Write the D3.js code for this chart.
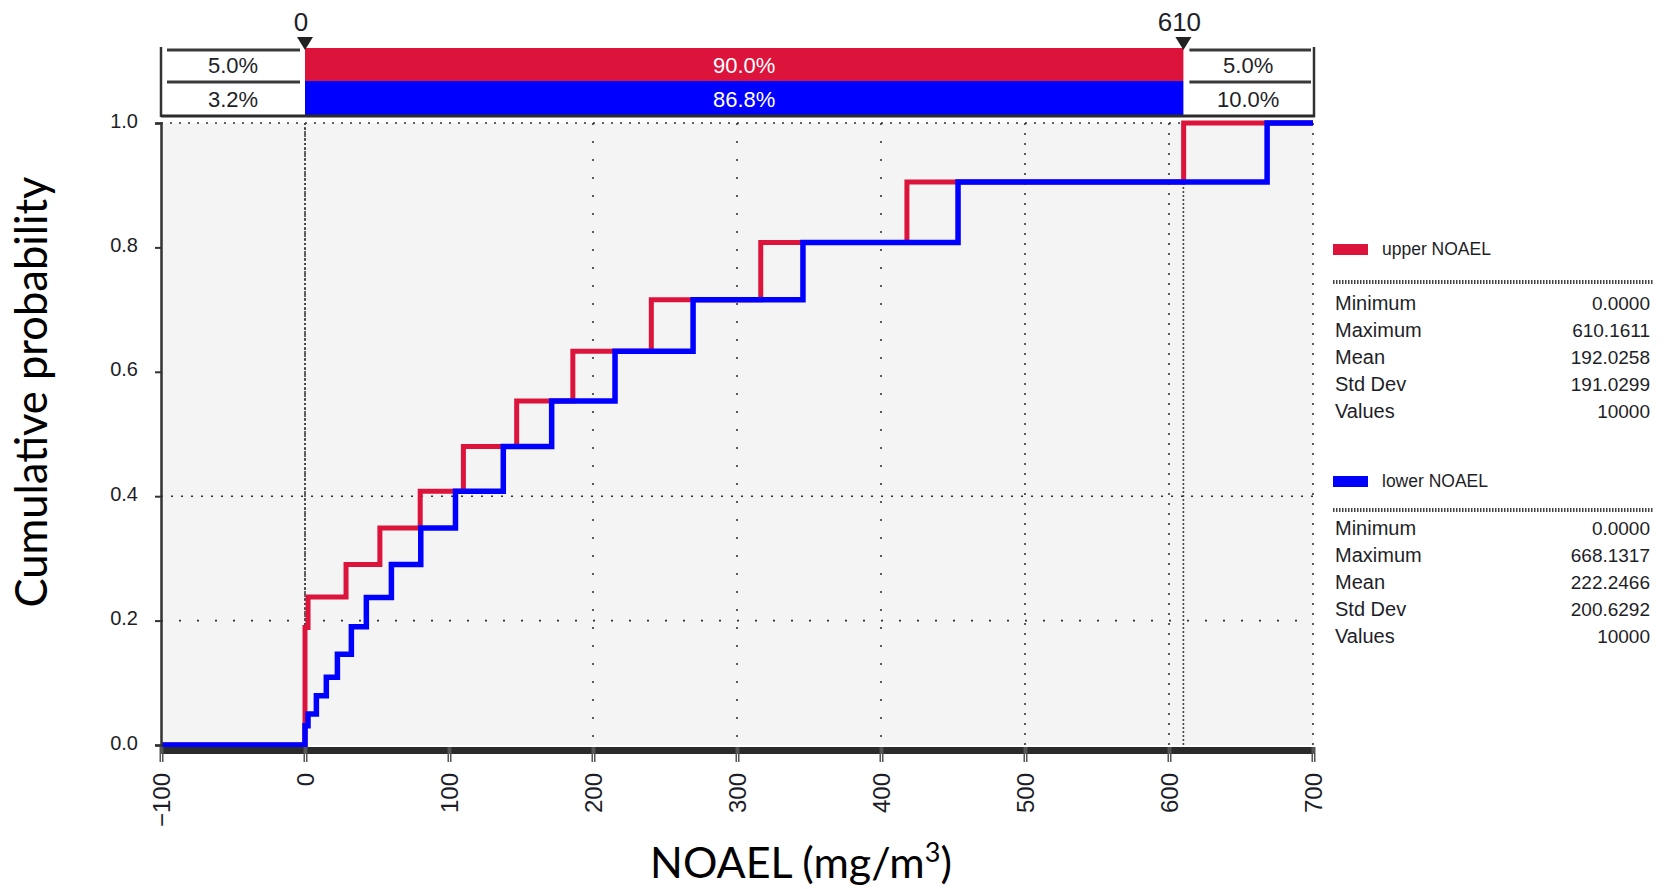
<!DOCTYPE html>
<html>
<head>
<meta charset="utf-8">
<script src="https://cdn.jsdelivr.net/npm/d3@7"></script>
<style>
  body { margin: 0; background: #fff; }
  svg { display: block; }
</style>
</head>
<body>
<svg id="chart" width="1665" height="889"></svg>
<script>
// ---- data ----
const xTickValues = [-100, 0, 100, 200, 300, 400, 500, 600, 700];
const yTickValues = [0, 0.2, 0.4, 0.6, 0.8, 1.0];
const xGridValues = [0, 200, 300, 400, 500, 600, 700];
const yGridValues = [0.2, 0.4, 1.0];

// cumulative step curves: x where each step occurs, and level reached
const upperX = [-100, 0, 2.1, 28.5, 52, 80, 110, 147, 186, 240.5, 316.5, 418, 610.16, 700];
const upperP = [0, 0.189, 0.238, 0.290, 0.349, 0.408, 0.480, 0.553, 0.633, 0.716, 0.808, 0.905, 1.0, 1.0];
const lowerX = [-100, 0, 2.1, 7.9, 14.8, 22.5, 32.2, 42.6, 60, 80.4, 104.5, 137.7, 171.3, 215.3, 269.5, 345.8, 453.5, 668.13, 700];
const lowerP = [0, 0.031, 0.050, 0.079, 0.109, 0.146, 0.190, 0.237, 0.290, 0.349, 0.408, 0.480, 0.553, 0.633, 0.716, 0.808, 0.905, 1.0, 1.0];

// delimiters and the probability bands between them
const delimiters = [0, 610];
const delimiterLabels = ["0", "610"];
const upperBand = ["5.0%", "90.0%", "5.0%"];
const lowerBand = ["3.2%", "86.8%", "10.0%"];

const seriesNames = ["upper NOAEL", "lower NOAEL"];
const statNames = ["Minimum", "Maximum", "Mean", "Std Dev", "Values"];
const upperStats = ["0.0000", "610.1611", "192.0258", "191.0299", "10000"];
const lowerStats = ["0.0000", "668.1317", "222.2466", "200.6292", "10000"];

const RED = "#DC143C", BLUE = "#0000FF", INK = "#1e1e28";

// ---- layout ----
const svg = d3.select("#chart");
const plot = { left: 161, right: 1313, top: 123, bottom: 745 };
const x = d3.scaleLinear().domain([-100, 700]).range([plot.left, plot.right]);
const y = d3.scaleLinear().domain([0, 1]).range([plot.bottom, plot.top]);

// plot background
svg.append("rect")
  .attr("x", plot.left).attr("y", plot.top)
  .attr("width", plot.right - plot.left).attr("height", plot.bottom - plot.top)
  .attr("fill", "#F4F4F4");

// dotted grid
const gridDash = { 0.2: "2,16", 0.4: "2,8", 1.0: "2,7" };
svg.append("g").selectAll("line").data(yGridValues).join("line")
  .attr("x1", plot.left).attr("x2", plot.right)
  .attr("y1", d => y(d)).attr("y2", d => y(d))
  .attr("stroke", "#333").attr("stroke-width", 1.6)
  .attr("stroke-dasharray", d => gridDash[d]);
const vDash = { 0: "2,3", 200: "2,16", 300: "2,16", 400: "2,16", 500: "2,8", 600: "2,8", 700: "2,8" };
svg.append("g").selectAll("line").data(xGridValues).join("line")
  .attr("x1", d => x(d)).attr("x2", d => x(d))
  .attr("y1", plot.top).attr("y2", plot.bottom)
  .attr("stroke", "#333").attr("stroke-width", 1.6)
  .attr("stroke-dasharray", d => vDash[d]);
// delimiter lines
svg.append("g").selectAll("line").data(delimiters).join("line")
  .attr("x1", d => x(d)).attr("x2", d => x(d))
  .attr("y1", plot.top).attr("y2", plot.bottom)
  .attr("stroke", "#444").attr("stroke-width", 1.6)
  .attr("stroke-dasharray", "2,2");

// step curves
const step = d3.line().x(d => x(d[0])).y(d => y(d[1])).curve(d3.curveStepAfter);
const upperPts = upperX.map((v, i) => [v, upperP[i]]);
const lowerPts = lowerX.map((v, i) => [v, lowerP[i]]);
svg.append("path").attr("d", step(upperPts))
  .attr("fill", "none").attr("stroke", RED).attr("stroke-width", 5).attr("stroke-linejoin", "miter");
svg.append("path").attr("d", step(lowerPts))
  .attr("fill", "none").attr("stroke", BLUE).attr("stroke-width", 5.5).attr("stroke-linejoin", "miter");

// left axis
const yAxis = d3.axisLeft(y).tickValues(yTickValues).tickFormat(d3.format(".1f")).tickSize(6).tickPadding(17);
const gy = svg.append("g").attr("transform", `translate(${plot.left},0)`).call(yAxis);
gy.select(".domain").attr("stroke", "#333").attr("stroke-width", 2.5);
gy.selectAll(".tick line").attr("stroke", "#333").attr("stroke-width", 2);
gy.selectAll(".tick text").attr("font-family", "Liberation Sans, Arial, sans-serif")
  .attr("font-size", 20).attr("fill", INK).attr("dy", "0.2em");

// bottom axis: thick bar with double ticks
svg.append("rect").attr("x", plot.left).attr("y", plot.bottom + 2)
  .attr("width", plot.right - plot.left + 2).attr("height", 7).attr("fill", "#2b2b2b");
const xAxis = d3.axisBottom(x).tickValues(xTickValues).tickFormat(d3.format("d")).tickSize(15).tickPadding(4);
const gx = svg.append("g").attr("transform", `translate(0,${plot.bottom + 2})`).call(xAxis);
gx.select(".domain").remove();
gx.selectAll(".tick line").attr("stroke", "#555").attr("stroke-width", 4);
gx.selectAll(".tick").append("line").attr("y1", 7).attr("y2", 15)
  .attr("stroke", "#fff").attr("stroke-width", 1);
gx.selectAll(".tick text")
  .attr("font-family", "Liberation Sans, Arial, sans-serif").attr("font-size", 24)
  .attr("fill", INK).attr("text-anchor", "end")
  .attr("transform", "translate(0,26) rotate(-90)").attr("y", 0).attr("dy", "0.35em").attr("x", 0);

// ---- delimiter band on top ----
const bandTop = 48, bandMid = 81, bandBot = 115;
const segs = [[-100, 0], [0, 610], [610, 700]];
// white outer boxes
svg.append("rect").attr("x", plot.left).attr("y", bandTop)
  .attr("width", plot.right - plot.left).attr("height", bandBot - bandTop).attr("fill", "#fff");
svg.append("rect").attr("x", x(delimiters[0])).attr("y", bandTop)
  .attr("width", x(delimiters[1]) - x(delimiters[0])).attr("height", bandMid - bandTop).attr("fill", RED);
svg.append("rect").attr("x", x(delimiters[0])).attr("y", bandMid)
  .attr("width", x(delimiters[1]) - x(delimiters[0])).attr("height", bandBot - bandMid).attr("fill", BLUE);
// box borders on the side boxes
[[x(-100) + 6, x(0) - 5], [x(610) + 6, x(700) - 2]].forEach(([a, b]) => {
  [bandTop + 2, bandMid + 1].forEach(yy => {
    svg.append("line").attr("x1", a).attr("x2", b).attr("y1", yy).attr("y2", yy)
      .attr("stroke", "#3a3a3a").attr("stroke-width", 3);
  });
});
svg.append("line").attr("x1", plot.left).attr("x2", plot.left).attr("y1", bandTop - 1).attr("y2", bandBot + 2)
  .attr("stroke", "#333").attr("stroke-width", 2.5);
svg.append("line").attr("x1", plot.right + 1).attr("x2", plot.right + 1).attr("y1", bandTop - 1).attr("y2", bandBot + 2)
  .attr("stroke", "#333").attr("stroke-width", 2.5);
svg.append("line").attr("x1", plot.left).attr("x2", plot.right + 2).attr("y1", bandBot + 1).attr("y2", bandBot + 1)
  .attr("stroke", "#2b2b2b").attr("stroke-width", 3);

// band percentages
const bandFont = "Liberation Sans, Arial, sans-serif";
segs.forEach((s, i) => {
  const cx = (x(s[0]) + x(s[1])) / 2;
  const fill = i === 1 ? "#fff" : INK;
  svg.append("text").attr("x", cx).attr("y", (bandTop + bandMid) / 2 + 1)
    .attr("text-anchor", "middle").attr("dominant-baseline", "central")
    .attr("font-family", bandFont).attr("font-size", 22).attr("fill", fill).text(upperBand[i]);
  svg.append("text").attr("x", cx).attr("y", (bandMid + bandBot) / 2 + 1)
    .attr("text-anchor", "middle").attr("dominant-baseline", "central")
    .attr("font-family", bandFont).attr("font-size", 22).attr("fill", fill).text(lowerBand[i]);
});

// delimiter markers and labels
delimiters.forEach((d, i) => {
  const cx = x(d);
  svg.append("path").attr("d", `M${cx - 8},37 L${cx + 8},37 L${cx},50 Z`).attr("fill", "#222");
  svg.append("text").attr("x", cx - 4).attr("y", 31).attr("text-anchor", "middle")
    .attr("font-family", bandFont).attr("font-size", 26).attr("fill", INK).text(delimiterLabels[i]);
});

// ---- legend and statistics ----
const panelX = 1333, panelR = 1650;
const panels = [
  { name: seriesNames[0], color: RED, stats: upperStats, top: 249, sep: 282, rows: 303 },
  { name: seriesNames[1], color: BLUE, stats: lowerStats, top: 481, sep: 510, rows: 528 }
];
panels.forEach(p => {
  svg.append("rect").attr("x", panelX).attr("y", p.top - 5).attr("width", 35).attr("height", 11).attr("fill", p.color);
  svg.append("text").attr("x", panelX + 49).attr("y", p.top).attr("dominant-baseline", "central")
    .attr("font-family", bandFont).attr("font-size", 17.5).attr("fill", INK).text(p.name);
  svg.append("line").attr("x1", panelX).attr("x2", panelR + 4).attr("y1", p.sep).attr("y2", p.sep)
    .attr("stroke", "#444").attr("stroke-width", 4).attr("stroke-dasharray", "1.5,1.5");
  statNames.forEach((n, i) => {
    const yy = p.rows + i * 27;
    svg.append("text").attr("x", panelX + 2).attr("y", yy).attr("dominant-baseline", "central")
      .attr("font-family", bandFont).attr("font-size", 20).attr("fill", INK).text(n);
    svg.append("text").attr("x", panelR).attr("y", yy).attr("dominant-baseline", "central")
      .attr("text-anchor", "end")
      .attr("font-family", bandFont).attr("font-size", 19).attr("fill", INK).text(p.stats[i]);
  });
});

// ---- axis titles ----
svg.append("text").attr("transform", "translate(47,392) rotate(-90)")
  .attr("text-anchor", "middle").attr("font-family", "Lato, Open Sans, sans-serif")
  .attr("font-size", 43.5).attr("fill", "#000").text("Cumulative probability");
const xt = svg.append("text").attr("x", 801).attr("y", 878).attr("text-anchor", "middle")
  .attr("font-family", "Lato, Open Sans, sans-serif").attr("font-size", 43).attr("fill", "#000");
xt.append("tspan").text("NOAEL (mg/m");
xt.append("tspan").attr("font-size", 27).attr("dy", -16).text("3");
xt.append("tspan").attr("dy", 16).text(")");
</script>
</body>
</html>
